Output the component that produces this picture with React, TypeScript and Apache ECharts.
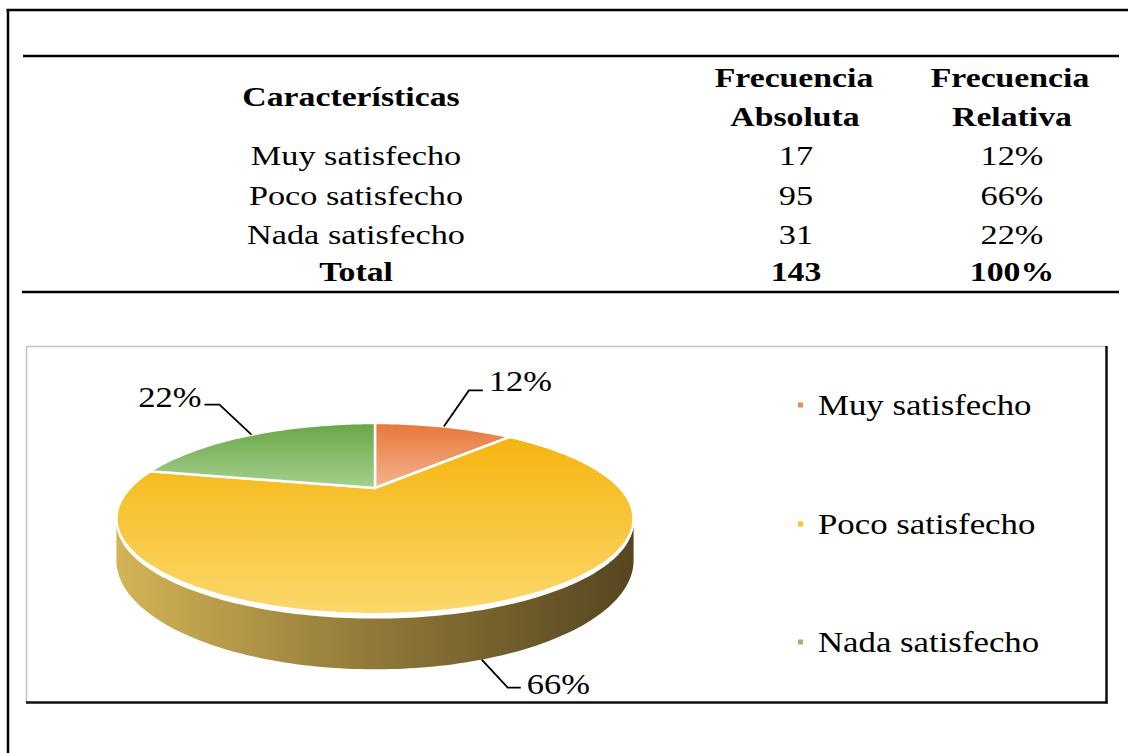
import React, { useEffect, useRef } from 'react';
import * as echarts from 'echarts';

// ---------- data ----------
const categories = ['Muy satisfecho', 'Poco satisfecho', 'Nada satisfecho'];
const absoluteFreq = [17, 95, 31];
const headerCharacteristics = 'Características';
const headerAbsolute = ['Frecuencia', 'Absoluta'];
const headerRelative = ['Frecuencia', 'Relativa'];
const totalLabel = 'Total';

// ---------- styles ----------
const sliceGradients = [
  ['#E8773A', '#F2B48E'],
  ['#F5B50F', '#FBD86C'],
  ['#68A647', '#A6D08E'],
];
const legendColors = ['#EC8A50', '#FBC12C', '#8CBB6B'];
const labelLayout = [
  { dx: 25, dy: -36, tail: 14, side: 1, ty: -10 },
  { dx: 26, dy: 28, tail: 13, side: 1, ty: -4 },
  { dx: -32, dy: -30, tail: 15, side: -1, ty: -8 },
];
const SERIF = "'Liberation Serif', 'Times New Roman', Times, serif";

// perspective projection of the pie disc
const P = { cx: 375, cy: 488, b: 245, a: 85.8, k: 0.32, h: 37.5 };
function proj(phi: number, drop = 0): number[] {
  const c = Math.cos(phi);
  const s = Math.sin(phi);
  const w = 1 + P.k * c;
  return [P.cx + (P.b * s) / w, P.cy - (P.a * c) / w + drop / w];
}
const FRONT0 = Math.acos(-P.k);
const FRONT1 = 2 * Math.PI - Math.acos(-P.k);

const total = absoluteFreq.reduce((s, v) => s + v, 0);
const pct = (v: number) => Math.round((v / total) * 100) + '%';
const angles: number[][] = (() => {
  let acc = 0;
  return absoluteFreq.map((v) => {
    const a0 = (acc / total) * Math.PI * 2;
    acc += v;
    return [a0, (acc / total) * Math.PI * 2];
  });
})();

function arcPts(a0: number, a1: number, drop = 0): number[][] {
  const n = Math.max(2, Math.ceil((a1 - a0) / (Math.PI / 180)));
  const out: number[][] = [];
  for (let j = 0; j <= n; j++) out.push(proj(a0 + ((a1 - a0) * j) / n, drop));
  return out;
}

function txt(text: string, x: number, y: number, o: any = {}) {
  const align = o.align || 'center';
  return {
    type: 'text',
    x,
    y,
    scaleX: o.scaleX ?? 1.27,
    silent: true,
    style: {
      text,
      fontSize: o.fontSize ?? 27,
      fontFamily: SERIF,
      fontWeight: o.bold ? 'bold' : 'normal',
      fill: '#000',
      align,
      verticalAlign: 'middle',
      textAlign: align,
      textVerticalAlign: 'middle',
    },
  };
}
function ln(x1: number, y1: number, x2: number, y2: number, w: number, color = '#000') {
  return { type: 'line', silent: true, shape: { x1, y1, x2, y2 }, style: { stroke: color, lineWidth: w } };
}

const colX = [356, 796, 1012];
const rowY = [156, 196, 235];
const legendY = [405, 524, 642];

function buildGraphic() {
  const els: any[] = [];
  // outer frame
  els.push(ln(6.5, 10, 1128, 10, 2.5));
  els.push(ln(8, 9, 8, 753, 2.5));
  // table rules
  els.push(ln(23, 56, 1119, 56, 2.5));
  els.push(ln(22, 292, 1119, 292, 2.5));
  // headers
  els.push(txt(headerCharacteristics, 351, 97.5, { bold: true, scaleX: 1.25 }));
  els.push(txt(headerAbsolute[0], colX[1] - 2, 78, { bold: true, scaleX: 1.25 }));
  els.push(txt(headerAbsolute[1], colX[1] - 1, 117, { bold: true, scaleX: 1.25 }));
  els.push(txt(headerRelative[0], colX[2] - 2, 78, { bold: true, scaleX: 1.25 }));
  els.push(txt(headerRelative[1], colX[2], 117, { bold: true, scaleX: 1.25 }));
  categories.forEach((c, i) => {
    els.push(txt(c, colX[0], rowY[i]));
    els.push(txt(String(absoluteFreq[i]), colX[1], rowY[i]));
    els.push(txt(pct(absoluteFreq[i]), colX[2], rowY[i]));
  });
  els.push(txt(totalLabel, colX[0], 272.5, { bold: true, scaleX: 1.25 }));
  els.push(txt(String(total), colX[1], 272.5, { bold: true, scaleX: 1.25 }));
  els.push(txt(pct(total), colX[2], 272.5, { bold: true, scaleX: 1.25 }));
  // chart box
  els.push({
    type: 'rect',
    silent: true,
    shape: { x: 26.5, y: 346.5, width: 1080, height: 356 },
    style: { fill: 'none', stroke: '#c4c4c4', lineWidth: 1.5 },
  });
  els.push(ln(1106.5, 346, 1106.5, 703.5, 2.5, '#111'));
  els.push(ln(26, 702.5, 1107.5, 702.5, 2.5, '#111'));
  // legend
  categories.forEach((c, i) => {
    els.push({
      type: 'rect',
      silent: true,
      shape: { x: 798, y: legendY[i] - 2.5, width: 5, height: 5 },
      style: { fill: legendColors[i] },
    });
    els.push(txt(c, 818, legendY[i], { align: 'left', fontSize: 30, scaleX: 1.16 }));
  });
  return els;
}

const wallGradient = () =>
  new echarts.graphic.LinearGradient(0, 0, 1, 0, [
    { offset: 0, color: '#D4B457' },
    { offset: 0.5, color: '#8F7838' },
    { offset: 1, color: '#564520' },
  ]);

export default function App() {
  const ref = useRef<HTMLDivElement>(null);
  useEffect(() => {
    const chart = echarts.init(ref.current!, null, { renderer: 'svg' });
    chart.setOption({
      animation: false,
      backgroundColor: '#fff',
      graphic: { elements: buildGraphic() },
      series: [
        {
          type: 'custom',
          name: 'wall',
          coordinateSystem: 'none',
          silent: true,
          z: 1,
          data: absoluteFreq,
          renderItem: (params: any) => {
            const [a0, a1] = angles[params.dataIndex];
            const s = Math.max(a0, FRONT0);
            const e = Math.min(a1, FRONT1);
            if (e <= s) return { type: 'group', children: [] };
            const top = arcPts(s, e, 3);
            const bottom = arcPts(s, e, P.h).reverse();
            return {
              type: 'polygon',
              shape: { points: top.concat(bottom) },
              style: { fill: wallGradient(), stroke: null },
            };
          },
        },
        {
          type: 'custom',
          name: 'top',
          coordinateSystem: 'none',
          silent: true,
          z: 2,
          data: absoluteFreq,
          renderItem: (params: any, api: any) => {
            const i = params.dataIndex;
            const v = api.value(0);
            const [a0, a1] = angles[i];
            const pts = [[P.cx, P.cy]].concat(arcPts(a0, a1));
            const g = sliceGradients[i];
            const m = (a0 + a1) / 2;
            const front = m > FRONT0 && m < FRONT1;
            const anchor = proj(m, front ? P.h : 0);
            const L = labelLayout[i];
            const elbow = [anchor[0] + L.dx, anchor[1] + L.dy];
            const end = [elbow[0] + L.side * L.tail, elbow[1]];
            const tx = L.side > 0 ? end[0] + 6 : end[0] - 3;
            const align = L.side > 0 ? 'left' : 'right';
            return {
              type: 'group',
              children: [
                {
                  type: 'polygon',
                  shape: { points: pts },
                  style: {
                    fill: new echarts.graphic.LinearGradient(0, 0, 0, 1, [
                      { offset: 0, color: g[0] },
                      { offset: 1, color: g[1] },
                    ]),
                    stroke: '#fff',
                    lineWidth: 2.5,
                    lineJoin: 'round',
                  },
                },
                {
                  type: 'polyline',
                  shape: { points: [anchor, elbow, end] },
                  style: { stroke: '#000', lineWidth: 1.8, fill: null },
                },
                {
                  type: 'text',
                  x: tx,
                  y: end[1] + L.ty,
                  scaleX: 1.15,
                  style: {
                    text: pct(v),
                    fontSize: 30,
                    fontFamily: SERIF,
                    fill: '#000',
                    align,
                    verticalAlign: 'middle',
                    textAlign: align,
                    textVerticalAlign: 'middle',
                  },
                },
              ],
            };
          },
        },
      ],
    });
    return () => chart.dispose();
  }, []);
  return (
    <div
      ref={ref}
      style={{ position: 'fixed', left: 0, top: 0, width: 1128, height: 753, background: '#fff' }}
    />
  );
}
